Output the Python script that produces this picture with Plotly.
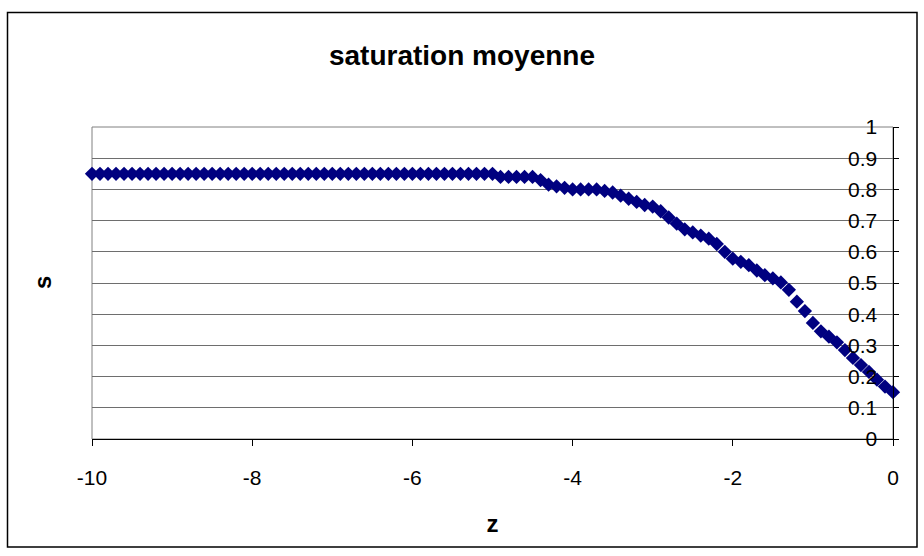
import plotly.graph_objects as go

# depth positions (z)
z = [-10.0, -9.9, -9.8, -9.7, -9.6, -9.5, -9.4, -9.3, -9.2, -9.1,
     -9.0, -8.9, -8.8, -8.7, -8.6, -8.5, -8.4, -8.3, -8.2, -8.1,
     -8.0, -7.9, -7.8, -7.7, -7.6, -7.5, -7.4, -7.3, -7.2, -7.1,
     -7.0, -6.9, -6.8, -6.7, -6.6, -6.5, -6.4, -6.3, -6.2, -6.1,
     -6.0, -5.9, -5.8, -5.7, -5.6, -5.5, -5.4, -5.3, -5.2, -5.1,
     -5.0, -4.9, -4.8, -4.7, -4.6, -4.5, -4.4, -4.3, -4.2, -4.1,
     -4.0, -3.9, -3.8, -3.7, -3.6, -3.5, -3.4, -3.3, -3.2, -3.1,
     -3.0, -2.9, -2.8, -2.7, -2.6, -2.5, -2.4, -2.3, -2.2, -2.1,
     -2.0, -1.9, -1.8, -1.7, -1.6, -1.5, -1.4, -1.3, -1.2, -1.1,
     -1.0, -0.9, -0.8, -0.7, -0.6, -0.5, -0.4, -0.3, -0.2, -0.1,
     0.0]

# mean saturation (s)
s = [0.85, 0.85, 0.85, 0.85, 0.85, 0.85, 0.85, 0.85, 0.85, 0.85,
     0.85, 0.85, 0.85, 0.85, 0.85, 0.85, 0.85, 0.85, 0.85, 0.85,
     0.85, 0.85, 0.85, 0.85, 0.85, 0.85, 0.85, 0.85, 0.85, 0.85,
     0.85, 0.85, 0.85, 0.85, 0.85, 0.85, 0.85, 0.85, 0.85, 0.85,
     0.85, 0.85, 0.85, 0.85, 0.85, 0.85, 0.85, 0.85, 0.85, 0.85,
     0.85, 0.84, 0.84, 0.84, 0.84, 0.84, 0.83, 0.815, 0.81, 0.805,
     0.80, 0.80, 0.80, 0.80, 0.795, 0.79, 0.78, 0.77, 0.76, 0.75,
     0.745, 0.73, 0.71, 0.69, 0.672, 0.662, 0.652, 0.642, 0.625, 0.60,
     0.578, 0.568, 0.557, 0.54, 0.525, 0.515, 0.502, 0.478, 0.44, 0.41,
     0.372, 0.345, 0.328, 0.31, 0.285, 0.26, 0.237, 0.215, 0.19, 0.168,
     0.15]

x_ticks = [-10, -8, -6, -4, -2, 0]
x_tick_text = ["-10", "-8", "-6", "-4", "-2", "0"]
y_ticks = [0, 0.1, 0.2, 0.3, 0.4, 0.5, 0.6, 0.7, 0.8, 0.9, 1]
y_tick_text = ["0", "0.1", "0.2", "0.3", "0.4", "0.5", "0.6", "0.7", "0.8", "0.9", "1"]

FONT = "Liberation Sans, Arial, sans-serif"
W, H = 924, 556
L, R, T, B = 92, 31, 127, 117
pw, ph = W - L - R, H - T - B

fig = go.Figure()
fig.add_trace(go.Scatter(
    x=z, y=s, mode="markers",
    marker=dict(symbol="diamond", size=11, color="#000080",
                line=dict(width=0)),
    showlegend=False, cliponaxis=False,
))

fig.update_layout(
    width=W, height=H,
    margin=dict(l=L, r=R, t=T, b=B, pad=0),
    paper_bgcolor="white", plot_bgcolor="white",
    font=dict(family=FONT, color="black"),
    title=dict(text="<b>saturation moyenne</b>", x=0.5, xref="container",
               xanchor="center", y=1 - 55 / H, yanchor="middle",
               font=dict(size=28, family=FONT, color="black")),
    xaxis=dict(range=[-10, 0], tickvals=x_ticks, ticktext=x_tick_text,
               ticks="outside", ticklen=6,
               tickcolor="black", showgrid=False, zeroline=False,
               showline=True, linecolor="black", linewidth=1,
               ticklabeloverflow="allow",
               tickfont=dict(size=21, family=FONT, color="black"),
               ticklabelstandoff=14,
               title=dict(text="<b>z</b>",
                          font=dict(size=24, family=FONT, color="black"),
                          standoff=26)),
    yaxis=dict(range=[0, 1], tickvals=y_ticks, ticktext=y_tick_text,
               side="right", ticklabelposition="inside", ticks="outside",
               ticklen=5, tickcolor="black", showgrid=True,
               gridcolor="#6e6e6e", gridwidth=1, zeroline=False,
               showline=True, linecolor="black", linewidth=1,
               ticklabeloverflow="allow",
               tickfont=dict(size=21, family=FONT, color="black"),
               ticklabelstandoff=17),
    shapes=[
        # plot-area frame (top and left edges)
        dict(type="rect", xref="paper", yref="paper", x0=0, y0=0, x1=1, y1=1,
             line=dict(color="#808080", width=1), layer="below"),
        # outer chart border
        dict(type="rect", xref="paper", yref="paper",
             x0=(7.5 - L) / pw, x1=(917 - L) / pw,
             y0=(H - B - 547) / ph, y1=(H - B - 12.5) / ph,
             line=dict(color="black", width=1.5)),
    ],
    annotations=[
        dict(text="<b>s</b>", xref="paper", yref="paper",
             x=(42 - L) / pw, y=0.5, xanchor="center", yanchor="middle",
             textangle=-90, showarrow=False,
             font=dict(size=24, family=FONT, color="black")),
    ],
)

fig.write_html("out.html")
